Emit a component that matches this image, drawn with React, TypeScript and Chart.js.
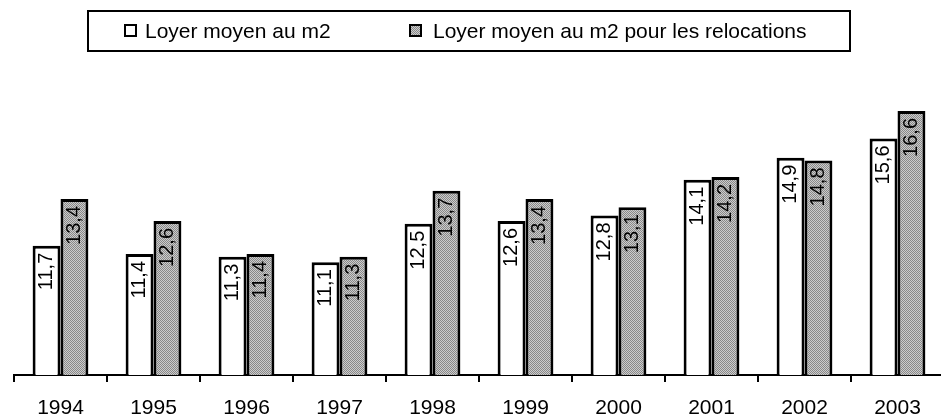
import React, { useEffect, useRef } from 'react';
import { Chart, registerables } from 'chart.js';

Chart.register(...registerables);

const categories = ['1994', '1995', '1996', '1997', '1998', '1999', '2000', '2001', '2002', '2003'];
const loyerMoyen = [11.7, 11.4, 11.3, 11.1, 12.5, 12.6, 12.8, 14.1, 14.9, 15.6];
const loyerRelocations = [13.4, 12.6, 11.4, 11.3, 13.7, 13.4, 13.1, 14.2, 14.8, 16.6];
const seriesLabels = ['Loyer moyen au m2', 'Loyer moyen au m2 pour les relocations'];

const FONT = '"Liberation Sans", Arial, Helvetica, sans-serif';

function makeDither(): CanvasPattern | string {
  const c = document.createElement('canvas');
  c.width = 2;
  c.height = 2;
  const g = c.getContext('2d');
  if (!g) return '#aaaaaa';
  g.fillStyle = '#cccccc';
  g.fillRect(0, 0, 2, 2);
  g.fillStyle = '#888888';
  g.fillRect(0, 0, 1, 1);
  g.fillRect(1, 1, 1, 1);
  return g.createPattern(c, 'repeat') || '#aaaaaa';
}

const valueLabels = {
  id: 'valueLabels',
  afterDatasetsDraw(chart: any) {
    const ctx = chart.ctx as CanvasRenderingContext2D;
    ctx.save();
    ctx.font = `20px ${FONT}`;
    ctx.fillStyle = '#000';
    ctx.textAlign = 'right';
    ctx.textBaseline = 'middle';
    chart.data.datasets.forEach((ds: any, i: number) => {
      const meta = chart.getDatasetMeta(i);
      meta.data.forEach((bar: any, j: number) => {
        const v = ds.data[j];
        const p = bar.getProps(['x', 'y'], true);
        ctx.save();
        ctx.translate(p.x, p.y + 7);
        ctx.rotate(-Math.PI / 2);
        ctx.fillText(String(v).replace('.', ','), 0, 0);
        ctx.restore();
      });
    });
    ctx.restore();
  },
};

const boxLegend = {
  id: 'boxLegend',
  afterDraw(chart: any) {
    const ctx = chart.ctx as CanvasRenderingContext2D;
    ctx.save();
    ctx.strokeStyle = '#000';
    ctx.lineWidth = 2;
    ctx.strokeRect(88, 11, 762, 40);
    const items = [
      { mx: 125, tx: 145 },
      { mx: 410, tx: 433 },
    ];
    ctx.font = `21px ${FONT}`;
    ctx.textAlign = 'left';
    ctx.textBaseline = 'alphabetic';
    chart.data.datasets.forEach((ds: any, i: number) => {
      const it = items[i];
      ctx.fillStyle = ds.backgroundColor;
      ctx.fillRect(it.mx, 25, 11, 11);
      ctx.lineWidth = 2;
      ctx.strokeStyle = '#000';
      ctx.strokeRect(it.mx, 25, 11, 11);
      ctx.fillStyle = '#000';
      ctx.fillText(ds.label, it.tx, 37.5);
    });
    ctx.restore();
  },
};

export default function App() {
  const ref = useRef<HTMLCanvasElement | null>(null);

  useEffect(() => {
    if (!ref.current) return;
    const chart = new Chart(ref.current, {
      type: 'bar',
      data: {
        labels: categories,
        datasets: [
          {
            label: seriesLabels[0],
            data: loyerMoyen,
            backgroundColor: '#ffffff',
            borderColor: '#000000',
            borderWidth: 3,
            borderSkipped: 'bottom',
          },
          {
            label: seriesLabels[1],
            data: loyerRelocations,
            backgroundColor: makeDither() as any,
            borderColor: '#000000',
            borderWidth: 3,
            borderSkipped: 'bottom',
          },
        ],
      },
      options: {
        responsive: false,
        animation: false,
        layout: { padding: { top: 72.5, left: 14, right: 4, bottom: 0 } },
        datasets: { bar: { categoryPercentage: 0.6, barPercentage: 1.0 } },
        plugins: {
          legend: { display: false },
          tooltip: { enabled: false },
        },
        scales: {
          x: {
            offset: true,
            grid: {
              offset: true,
              drawOnChartArea: false,
              drawTicks: true,
              tickLength: 7,
              color: '#000',
              lineWidth: 2,
            },
            border: { display: true, color: '#000', width: 2 },
            ticks: {
              color: '#000',
              font: { size: 21, family: FONT },
              padding: 14,
              maxRotation: 0,
              autoSkip: false,
            },
            afterFit: (scale: any) => {
              scale.height = 45;
            },
          },
          y: {
            display: false,
            min: 7,
            max: 18,
          },
        },
      },
      plugins: [valueLabels, boxLegend],
    });
    return () => chart.destroy();
  }, []);

  return (
    <div style={{ position: 'absolute', left: 0, top: 0, width: 941, height: 420, overflow: 'hidden' }}>
      <canvas ref={ref} width={948} height={420} style={{ display: 'block' }} />
    </div>
  );
}
